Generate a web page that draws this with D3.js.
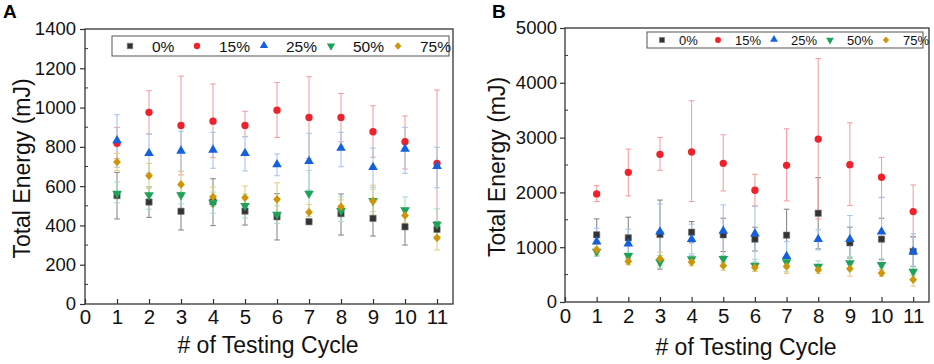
<!DOCTYPE html>
<html>
<head>
<meta charset="utf-8">
<script src="https://cdn.jsdelivr.net/npm/d3@7"></script>
<style>
  body { margin: 0; background: #fff; }
  svg { font-family: "Liberation Sans", Arial, sans-serif; }
</style>
</head>
<body>
<div id="chart"></div>
<script>
// cycles and series labels
const cycles = [1, 2, 3, 4, 5, 6, 7, 8, 9, 10, 11];
const seriesNames = ["0%", "15%", "25%", "50%", "75%"];
const seriesColors = ["#333333", "#f0212b", "#1560dc", "#1fa35a", "#cc9608"];
const errColors = ["#8a8a8a", "#f5a0a4", "#a8c4f0", "#a8dcc0", "#e6cc80"];

// panel A values (mJ)
const a0 = [552, 519, 472, 521, 473, 444, 419, 460, 436, 393, 380];
const a0Hi = [670, 597, 567, 638, 545, 562, 432, 560, 526, 486, 420];
const a0Lo = [433, 441, 377, 399, 402, 326, 406, 351, 346, 300, 340];
const a15 = [818, 976, 909, 931, 909, 987, 950, 950, 877, 826, 716];
const a15Hi = [899, 1086, 1160, 1120, 981, 1128, 1157, 1072, 1009, 957, 1089];
const a15Lo = [740, 865, 657, 745, 852, 848, 740, 826, 747, 687, 343];
const a25 = [830, 765, 777, 782, 765, 708, 724, 792, 694, 787, 699];
const a25Hi = [964, 865, 879, 874, 852, 764, 869, 874, 794, 899, 798];
const a25Lo = [696, 665, 675, 691, 677, 653, 580, 699, 595, 665, 592];
const a50 = [563, 555, 555, 516, 500, 456, 563, 475, 526, 478, 405];
const a50Hi = [620, 597, 600, 570, 560, 500, 680, 545, 585, 545, 485];
const a50Lo = [516, 482, 510, 462, 438, 410, 446, 420, 470, 410, 330];
const a75 = [723, 653, 609, 546, 541, 533, 467, 495, 524, 451, 337];
const a75Hi = [767, 716, 676, 595, 601, 617, 507, 530, 605, 490, 400];
const a75Lo = [679, 589, 545, 497, 481, 449, 427, 460, 443, 412, 275];

// panel B values (mJ)
const b0 = [1226, 1171, 1232, 1274, 1226, 1147, 1220, 1620, 1080, 1147, 922];
const b0Hi = [1517, 1547, 1860, 1468, 1529, 1365, 1693, 2269, 1365, 1529, 1195];
const b0Lo = [935, 800, 600, 1080, 920, 930, 750, 970, 800, 770, 650];
const b15 = [1972, 2367, 2694, 2737, 2530, 2039, 2494, 2973, 2506, 2276, 1650];
const b15Hi = [2124, 2791, 3004, 3671, 3052, 2330, 3161, 4442, 3271, 2640, 2136];
const b15Lo = [1833, 1936, 2403, 1833, 2027, 1754, 1845, 1517, 1760, 1911, 1183];
const b25 = [1092, 1056, 1274, 1135, 1286, 1238, 825, 1135, 1135, 1274, 910];
const b25Hi = [1347, 1329, 1790, 1420, 1772, 1742, 1104, 1317, 1578, 1905, 1244];
const b25Lo = [840, 780, 760, 850, 800, 730, 550, 950, 690, 640, 580];
const b50 = [922, 843, 728, 783, 789, 667, 728, 649, 710, 680, 558];
const b50Hi = [1000, 900, 850, 880, 850, 780, 790, 750, 830, 790, 640];
const b50Lo = [840, 790, 620, 700, 720, 560, 620, 560, 600, 590, 480];
const b75 = [953, 740, 789, 728, 661, 631, 649, 589, 607, 528, 407];
const b75Hi = [1050, 820, 910, 800, 730, 700, 720, 660, 700, 600, 510];
const b75Lo = [860, 680, 670, 660, 580, 560, 520, 520, 470, 470, 290];

const xTicks = [0, 1, 2, 3, 4, 5, 6, 7, 8, 9, 10, 11];

const svg = d3.select("#chart").append("svg")
  .attr("width", 934)
  .attr("height", 364);

const symbols = [d3.symbolSquare, d3.symbolCircle, d3.symbolTriangle, d3.symbolTriangle, d3.symbolDiamond2];
const symSize = [40, 42, 40, 40, 38];

function marker(g, i, x, y, scale) {
  const s = scale || 1;
  const p = g.append("path")
    .attr("d", d3.symbol().type(symbols[i]).size(symSize[i] * s)())
    .attr("fill", seriesColors[i]);
  if (i === 3) p.attr("transform", `translate(${x},${y}) rotate(180)`);
  else if (i === 4) p.attr("transform", `translate(${x},${y}) scale(1,1.12)`);
  else if (i === 2) p.attr("transform", `translate(${x},${y - 0.5})`);
  else p.attr("transform", `translate(${x},${y})`);
  if (i === 0) p.attr("stroke", "#777").attr("stroke-width", 0.6);
}

function drawPanel(o) {
  const x = d3.scaleLinear().domain([0, 11.5]).range([o.left, o.right]);
  const y = d3.scaleLinear().domain([0, o.yMax]).range([o.bottom, o.top]);
  const g = svg.append("g");

  // panel letter
  g.append("text").attr("x", o.letterX).attr("y", 18)
    .attr("font-size", 19).attr("font-weight", "bold").text(o.letter);

  // frame
  g.append("rect")
    .attr("x", o.left).attr("y", o.top)
    .attr("width", o.right - o.left).attr("height", o.bottom - o.top)
    .attr("fill", "none").attr("stroke", "#333").attr("stroke-width", 1.3);

  // y axis: major ticks out, minor ticks in
  const yAxis = d3.axisLeft(y).tickValues(d3.range(0, o.yMax + 1, o.yStep))
    .tickSize(5).tickPadding(o.yPad).tickFormat(d3.format("d"));
  const ya = g.append("g").attr("transform", `translate(${o.left},0)`).call(yAxis);
  ya.select(".domain").remove();
  ya.selectAll("line").attr("stroke", "#333").attr("stroke-width", 1.2);
  ya.selectAll("text").attr("font-size", 18.5).attr("fill", "#111")
    .attr("font-family", "Liberation Sans, Arial, sans-serif");
  const yMinor = d3.range(o.yStep / 2, o.yMax, o.yStep);
  g.selectAll(null).data(yMinor).enter().append("line")
    .attr("x1", o.left).attr("x2", o.left + 3)
    .attr("y1", d => y(d)).attr("y2", d => y(d))
    .attr("stroke", "#333").attr("stroke-width", 1);

  // x axis: ticks inward
  const xAxis = d3.axisBottom(x).tickValues(xTicks).tickSize(-5);
  const xa = g.append("g").attr("transform", `translate(0,${o.bottom})`).call(xAxis);
  xa.select(".domain").remove();
  xa.selectAll("line").attr("stroke", "#333").attr("stroke-width", 1.2);
  xa.selectAll("text").attr("font-size", 20.5).attr("fill", "#111")
    .attr("y", o.xLabDy).attr("dy", 0)
    .attr("font-family", "Liberation Sans, Arial, sans-serif");

  // axis titles
  g.append("text")
    .attr("transform", `translate(${o.yTitleX},${(o.top + o.bottom) / 2 + 2}) rotate(-90)`)
    .attr("text-anchor", "middle").attr("dominant-baseline", "central")
    .attr("font-size", 23).attr("fill", "#111").text("Total Energy (mJ)");
  g.append("text")
    .attr("x", (o.left + o.right) / 2 - 1).attr("y", o.xTitleY)
    .attr("text-anchor", "middle")
    .attr("font-size", 23).attr("fill", "#111").text("# of Testing Cycle");

  // error bars
  const cap = 2.8;
  o.series.forEach((s, i) => {
    const eg = g.append("g").attr("stroke", errColors[i]).attr("stroke-width", 1.1);
    cycles.forEach((c, k) => {
      const cx = x(c);
      eg.append("line").attr("x1", cx).attr("x2", cx)
        .attr("y1", y(s.lo[k])).attr("y2", y(s.hi[k]));
      eg.append("line").attr("x1", cx - cap).attr("x2", cx + cap)
        .attr("y1", y(s.lo[k])).attr("y2", y(s.lo[k]));
      eg.append("line").attr("x1", cx - cap).attr("x2", cx + cap)
        .attr("y1", y(s.hi[k])).attr("y2", y(s.hi[k]));
    });
  });

  // markers
  o.series.forEach((s, i) => {
    const mg = g.append("g");
    cycles.forEach((c, k) => marker(mg, i, x(c), y(s.mean[k])));
  });

  // legend
  const lg = g.append("g");
  lg.append("rect")
    .attr("x", o.legX).attr("y", o.legY)
    .attr("width", o.legW).attr("height", o.legH)
    .attr("fill", "#fff").attr("stroke", "#555").attr("stroke-width", 1);
  seriesNames.forEach((n, i) => {
    const sx = o.legX + o.legFirst + i * o.legStep;
    const cy = o.legY + o.legH / 2;
    marker(lg, i, sx, cy, o.legSym);
    lg.append("text").attr("x", sx + o.legGap).attr("y", cy)
      .attr("dominant-baseline", "central")
      .attr("font-size", o.legFont).attr("fill", "#111").text(n);
  });
}

drawPanel({
  letter: "A", letterX: 3,
  left: 85, right: 453, top: 29, bottom: 304, yMax: 1400, yStep: 200, yPad: 4,
  yTitleX: 22, xTitleY: 353, xLabDy: 20,
  legX: 112, legY: 36, legW: 337, legH: 20, legFirst: 18, legStep: 67, legGap: 22, legFont: 15.5, legSym: 0.75,
  series: [
    { mean: a0, hi: a0Hi, lo: a0Lo },
    { mean: a15, hi: a15Hi, lo: a15Lo },
    { mean: a25, hi: a25Hi, lo: a25Lo },
    { mean: a50, hi: a50Hi, lo: a50Lo },
    { mean: a75, hi: a75Hi, lo: a75Lo }
  ]
});

drawPanel({
  letter: "B", letterX: 492,
  left: 565, right: 929, top: 28, bottom: 302, yMax: 5000, yStep: 1000, yPad: 3,
  yTitleX: 497, xTitleY: 355, xLabDy: 21,
  legX: 647, legY: 32, legW: 276, legH: 16, legFirst: 15, legStep: 56, legGap: 17, legFont: 13, legSym: 0.65,
  series: [
    { mean: b0, hi: b0Hi, lo: b0Lo },
    { mean: b15, hi: b15Hi, lo: b15Lo },
    { mean: b25, hi: b25Hi, lo: b25Lo },
    { mean: b50, hi: b50Hi, lo: b50Lo },
    { mean: b75, hi: b75Hi, lo: b75Lo }
  ]
});
</script>
</body>
</html>
